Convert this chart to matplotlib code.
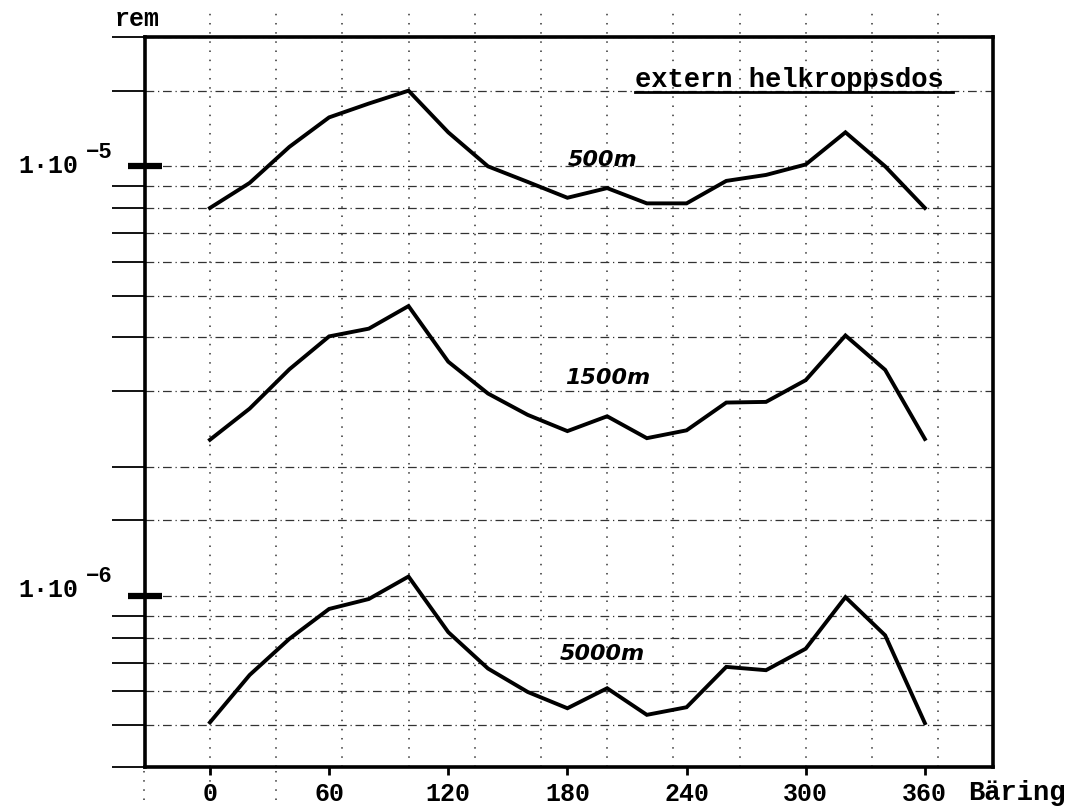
"""
Extern helkroppsdos (rem) som funktion av bäring, för tre avstånd: 500 m, 1500 m och 5000 m.
Logaritmisk y-axel, rutnät i stil med millimeterpapper.
"""

import matplotlib
matplotlib.use('Agg')
import matplotlib.pyplot as plt
import numpy as np
from matplotlib.ticker import FixedLocator, NullFormatter

# Data
baring = [0, 20, 40, 60, 80, 100, 120, 140, 160, 180, 200, 220, 240, 260, 280, 300, 320, 340, 360]
dos_500m = [8.0e-6, 9.15e-6, 1.11e-5, 1.30e-5, 1.40e-5, 1.50e-5, 1.20e-5, 1.00e-5, 9.2e-6, 8.45e-6,
            8.9e-6, 8.2e-6, 8.2e-6, 9.25e-6, 9.55e-6, 1.01e-5, 1.20e-5, 1.00e-5, 8.0e-6]
dos_1500m = [2.31e-6, 2.73e-6, 3.37e-6, 4.02e-6, 4.19e-6, 4.73e-6, 3.51e-6, 2.96e-6, 2.64e-6, 2.42e-6,
             2.62e-6, 2.33e-6, 2.43e-6, 2.82e-6, 2.83e-6, 3.18e-6, 4.04e-6, 3.36e-6, 2.32e-6]
dos_5000m = [5.08e-7, 6.55e-7, 7.95e-7, 9.33e-7, 9.84e-7, 1.11e-6, 8.24e-7, 6.78e-7, 5.98e-7, 5.48e-7,
             6.1e-7, 5.29e-7, 5.51e-7, 6.84e-7, 6.72e-7, 7.54e-7, 9.94e-7, 8.1e-7, 5.06e-7]
kurvor = [(dos_500m, '500m'), (dos_1500m, '1500m'), (dos_5000m, '5000m')]

x_ticks = [0, 60, 120, 180, 240, 300, 360]
y_major = [1e-6, 1e-5]
y_minor = [4e-7, 5e-7, 6e-7, 7e-7, 8e-7, 9e-7, 1.5e-6, 2e-6, 3e-6, 4e-6, 5e-6, 6e-6, 7e-6,
           8e-6, 9e-6, 1.5e-5, 2e-5]
y_labels = ['1·10', '1·10']
y_exponent = ['−6', '−5']

MONO = ['Liberation Mono', 'DejaVu Sans Mono']
HAND = ['DejaVu Sans']

W, H = 1083, 810
fig = plt.figure(figsize=(W / 100, H / 100), dpi=100)
ax = fig.add_axes([145 / W, 43 / H, 848 / W, 730 / H])

ax.set_yscale('log')
ax.set_ylim(4e-7, 2e-5)
ax.set_xlim(-32.7, 394.3)

# Papperets rutnät
for y in y_minor + y_major:
    ax.axhline(y, color='0.2', lw=0.9, ls=(0, (7, 3, 1, 3)), zorder=0.5)
for x in np.arange(100 / 3, 394, 100 / 3).tolist() + [0]:
    ax.axvline(x, ymin=0, ymax=1.04, color='0.2', lw=1.1, ls=(0, (1, 5)), clip_on=False, zorder=0.5)
for x in [-100 / 3, 0, 100 / 3]:
    ax.axvline(x, ymin=-0.045, ymax=0, color='0.2', lw=1.1, ls=(0, (1, 5)), clip_on=False, zorder=0.5)

# Kurvorna
for dos, namn in kurvor:
    ax.plot(baring, dos, color='black', lw=2.8, solid_joinstyle='miter', zorder=3)

# Handskrivna etiketter
ax.text(0.499, 0.832, '500m', transform=ax.transAxes, fontsize=16, family=HAND, style='italic',
        fontweight='bold', ha='left', va='center')
ax.text(0.495, 0.533, '1500m', transform=ax.transAxes, fontsize=16, family=HAND, style='italic',
        fontweight='bold', ha='left', va='center')
ax.text(0.489, 0.155, '5000m', transform=ax.transAxes, fontsize=16, family=HAND, style='italic',
        fontweight='bold', ha='left', va='center')

# Rubrik med understrykning
ax.text(0.578, 0.941, 'extern helkroppsdos', transform=ax.transAxes, fontsize=19.5, family=MONO,
        fontweight='bold', ha='left', va='center')
ax.plot([0.578, 0.953], [0.925, 0.925], transform=ax.transAxes, color='black', lw=2, clip_on=False)

# Axlar
for s in ax.spines.values():
    s.set_linewidth(2.6)
    s.set_color('black')

ax.set_xticks(x_ticks)
ax.set_xticklabels([str(t) for t in x_ticks], family=MONO, fontweight='bold', fontsize=18)
ax.tick_params(axis='x', direction='out', length=6, width=2, pad=5)

ax.yaxis.set_major_locator(FixedLocator(y_major))
ax.yaxis.set_minor_locator(FixedLocator(y_minor))
ax.yaxis.set_major_formatter(NullFormatter())
ax.yaxis.set_minor_formatter(NullFormatter())
ax.tick_params(axis='y', which='major', direction='inout', length=24, width=4.5)
ax.tick_params(axis='y', which='minor', direction='out', length=24, width=1.3)

# y-etiketter 1·10^-n
for y_pix, text, exp in [(590, y_labels[0], y_exponent[0]), (166, y_labels[1], y_exponent[1])]:
    fig.text(78 / W, 1 - y_pix / H, text, family=MONO, fontweight='bold', fontsize=18,
             ha='right', va='center')
    fig.text(86 / W, 1 - (y_pix - 14) / H, exp, family=MONO, fontweight='bold',
             fontsize=16, ha='left', va='center')

fig.text(115 / W, 1 - 19 / H, 'rem', family=MONO, fontweight='bold', fontsize=18, ha='left', va='center')
fig.text(968 / W, 1 - 793 / H, 'Bäring', family=MONO, fontweight='bold', fontsize=19.5, ha='left', va='center')

fig.savefig('out.png', dpi=100)
